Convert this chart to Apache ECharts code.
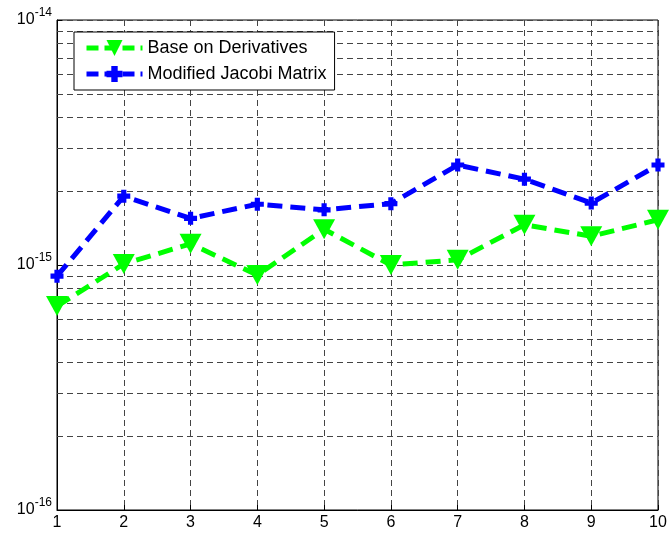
<!DOCTYPE html>
<html>
<head>
<meta charset="utf-8">
<script src="https://cdn.jsdelivr.net/npm/echarts@6/dist/echarts.min.js"></script>
<style>html,body{margin:0;padding:0;background:#fff;}#c{width:670px;height:537px;}</style>
</head>
<body>
<div id="c"></div>
<script>
const xValues = [1, 2, 3, 4, 5, 6, 7, 8, 9, 10];
const baseOnDerivatives = [0.68e-15, 1.01e-15, 1.22e-15, 0.91e-15, 1.40e-15, 1.00e-15, 1.05e-15, 1.46e-15, 1.31e-15, 1.53e-15];
const modifiedJacobi = [0.90e-15, 1.91e-15, 1.55e-15, 1.77e-15, 1.68e-15, 1.78e-15, 2.56e-15, 2.24e-15, 1.79e-15, 2.56e-15];
const minorGridValues = [2e-16, 3e-16, 4e-16, 5e-16, 6e-16, 7e-16, 8e-16, 9e-16,
                         2e-15, 3e-15, 4e-15, 5e-15, 6e-15, 7e-15, 8e-15, 9e-15];
const seriesNames = ['Base on Derivatives', 'Modified Jacobi Matrix'];

const FONT = 'Liberation Sans, Arial, sans-serif';
const gridDash = { color: '#444', width: 1, type: [6, 4] };
const plusPath = 'path://M3,0 L7,0 L7,3 L10,3 L10,7 L7,7 L7,10 L3,10 L3,7 L0,7 L0,3 L3,3 Z';

const chart = echarts.init(document.getElementById('c'), null, { renderer: 'canvas' });
chart.setOption({
  animation: false,
  backgroundColor: '#fff',
  grid: { left: 57, right: 12, top: 20, bottom: 27, show: true, borderColor: '#000', borderWidth: 1, containLabel: false },
  legend: {
    orient: 'vertical', left: 74, top: 32,
    backgroundColor: '#fff', borderColor: '#000', borderWidth: 1,
    padding: [7, 8, 7, 10], itemGap: 8,
    itemWidth: 56, itemHeight: 20,
    lineStyle: { width: 5, type: [12, 6] },
    textStyle: { fontFamily: FONT, fontSize: 18, color: '#000' },
    data: seriesNames
  },
  xAxis: {
    type: 'value', min: 1, max: 10, interval: 1,
    axisLine: { show: true, lineStyle: { color: '#000' } },
    axisTick: { show: true, inside: true, length: 5, lineStyle: { color: '#000' } },
    axisLabel: { fontFamily: FONT, fontSize: 16, color: '#000', margin: 5,
      formatter: v => String(v) },
    splitLine: { show: true, lineStyle: gridDash }
  },
  yAxis: {
    type: 'log', logBase: 10, min: 1e-16, max: 1e-14,
    axisLine: { show: true, lineStyle: { color: '#000' } },
    axisTick: { show: true, inside: true, length: 5, lineStyle: { color: '#000' } },
    axisLabel: {
      fontFamily: FONT, color: '#000', margin: 5,
      formatter: v => '{b|10}{s|' + Math.round(Math.log10(v)) + '}',
      rich: {
        b: { fontFamily: FONT, fontSize: 16, color: '#000' },
        s: { fontFamily: FONT, fontSize: 12, color: '#000', padding: [0, 0, 14, 0] }
      }
    },
    splitLine: { show: true, lineStyle: gridDash }
  },
  series: [
    {
      name: 'minorGrid', type: 'lines', coordinateSystem: 'cartesian2d',
      silent: true, z: 1,
      lineStyle: { color: '#444', width: 1, type: [6, 4], opacity: 1 },
      data: minorGridValues.map(v => ({ coords: [[xValues[0], v], [xValues[xValues.length - 1], v]] }))
    },
    {
      name: seriesNames[0], type: 'line',
      data: xValues.map((x, i) => [x, baseOnDerivatives[i]]),
      symbol: 'triangle', symbolRotate: 180, symbolSize: [22, 20], showAllSymbol: true,
      lineStyle: { color: '#00ff00', width: 5, type: [15, 8] },
      itemStyle: { color: '#00ff00' },
      z: 3
    },
    {
      name: seriesNames[1], type: 'line',
      data: xValues.map((x, i) => [x, modifiedJacobi[i]]),
      symbol: plusPath, symbolSize: 13, showAllSymbol: true,
      lineStyle: { color: '#0000ff', width: 5, type: [15, 8] },
      itemStyle: { color: '#0000ff' },
      z: 4
    }
  ]
});
</script>
</body>
</html>
